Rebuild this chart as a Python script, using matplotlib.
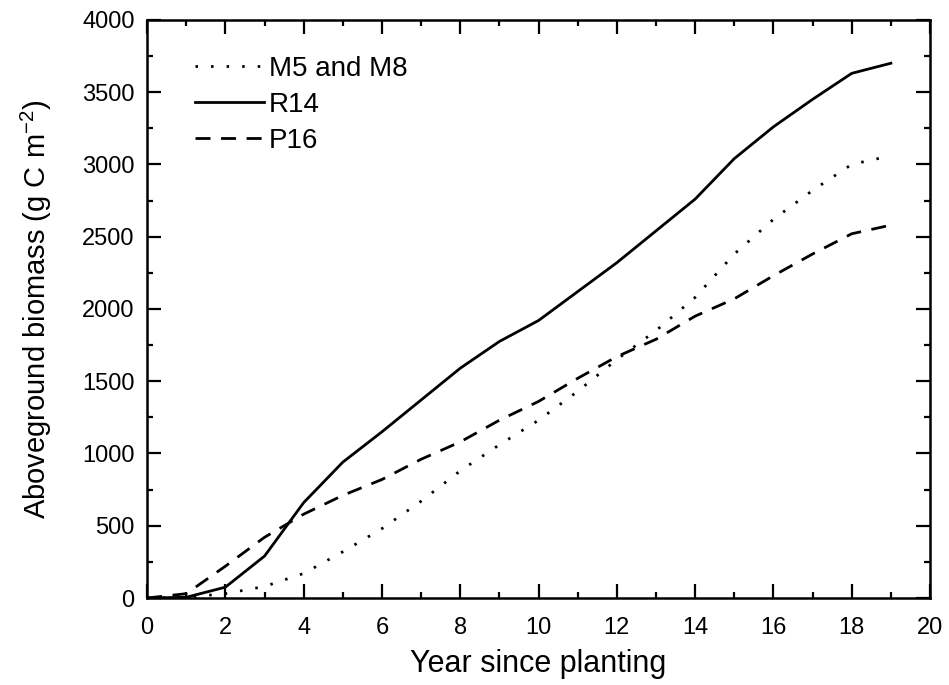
import numpy as np
import matplotlib.pyplot as plt
from matplotlib.ticker import MultipleLocator

plt.rcParams['font.family'] = ['Liberation Sans', 'DejaVu Sans']
plt.rcParams['mathtext.default'] = 'regular'

years = np.arange(0, 20)

# aboveground biomass, g C m-2
m5_m8 = [0, 5, 30, 80, 170, 320, 480, 670, 880, 1060,
         1230, 1430, 1650, 1850, 2080, 2380, 2620, 2820, 3000, 3060]
r14 = [0, 5, 75, 290, 660, 940, 1150, 1370, 1590, 1775,
       1920, 2120, 2320, 2540, 2760, 3040, 3260, 3450, 3630, 3700]
p16 = [0, 30, 220, 420, 580, 710, 820, 960, 1080, 1230,
       1360, 1520, 1670, 1790, 1950, 2070, 2230, 2380, 2520, 2580]

fig = plt.figure(figsize=(9.49, 6.85), dpi=100)
ax = fig.add_axes([0.155, 0.127, 0.825, 0.844])

ax.plot(years, m5_m8, color='black', lw=2, linestyle=(0, (0.9, 4.7)), label="M5 and M8")
ax.plot(years, r14, color='black', lw=2, linestyle='-', label="R14")
ax.plot(years, p16, color='black', lw=2, linestyle=(0, (5.4, 3.8)), label="P16")

ax.set_xlim(0, 20)
ax.set_ylim(0, 4000)
ax.xaxis.set_major_locator(MultipleLocator(2))
ax.xaxis.set_minor_locator(MultipleLocator(1))
ax.yaxis.set_major_locator(MultipleLocator(500))
ax.yaxis.set_minor_locator(MultipleLocator(250))
ax.tick_params(which='both', direction='in', top=True, right=True, width=1.6)
ax.tick_params(which='major', length=10, labelsize=17)
ax.tick_params(which='minor', length=4)
ax.tick_params(axis='x', which='major', pad=14)
ax.tick_params(axis='y', which='major', pad=9)
for s in ax.spines.values():
    s.set_linewidth(1.8)

ax.set_xlabel("Year since planting", fontsize=22, labelpad=7)
ax.set_ylabel("Aboveground biomass (g C m$^{-2}$)", fontsize=21, labelpad=20)

ax.legend(loc='upper left', frameon=False, fontsize=20, handlelength=2.5,
          handletextpad=0.15, labelspacing=0.36, borderaxespad=0,
          bbox_to_anchor=(0.047, 0.957))

fig.savefig("out.png", dpi=100)
